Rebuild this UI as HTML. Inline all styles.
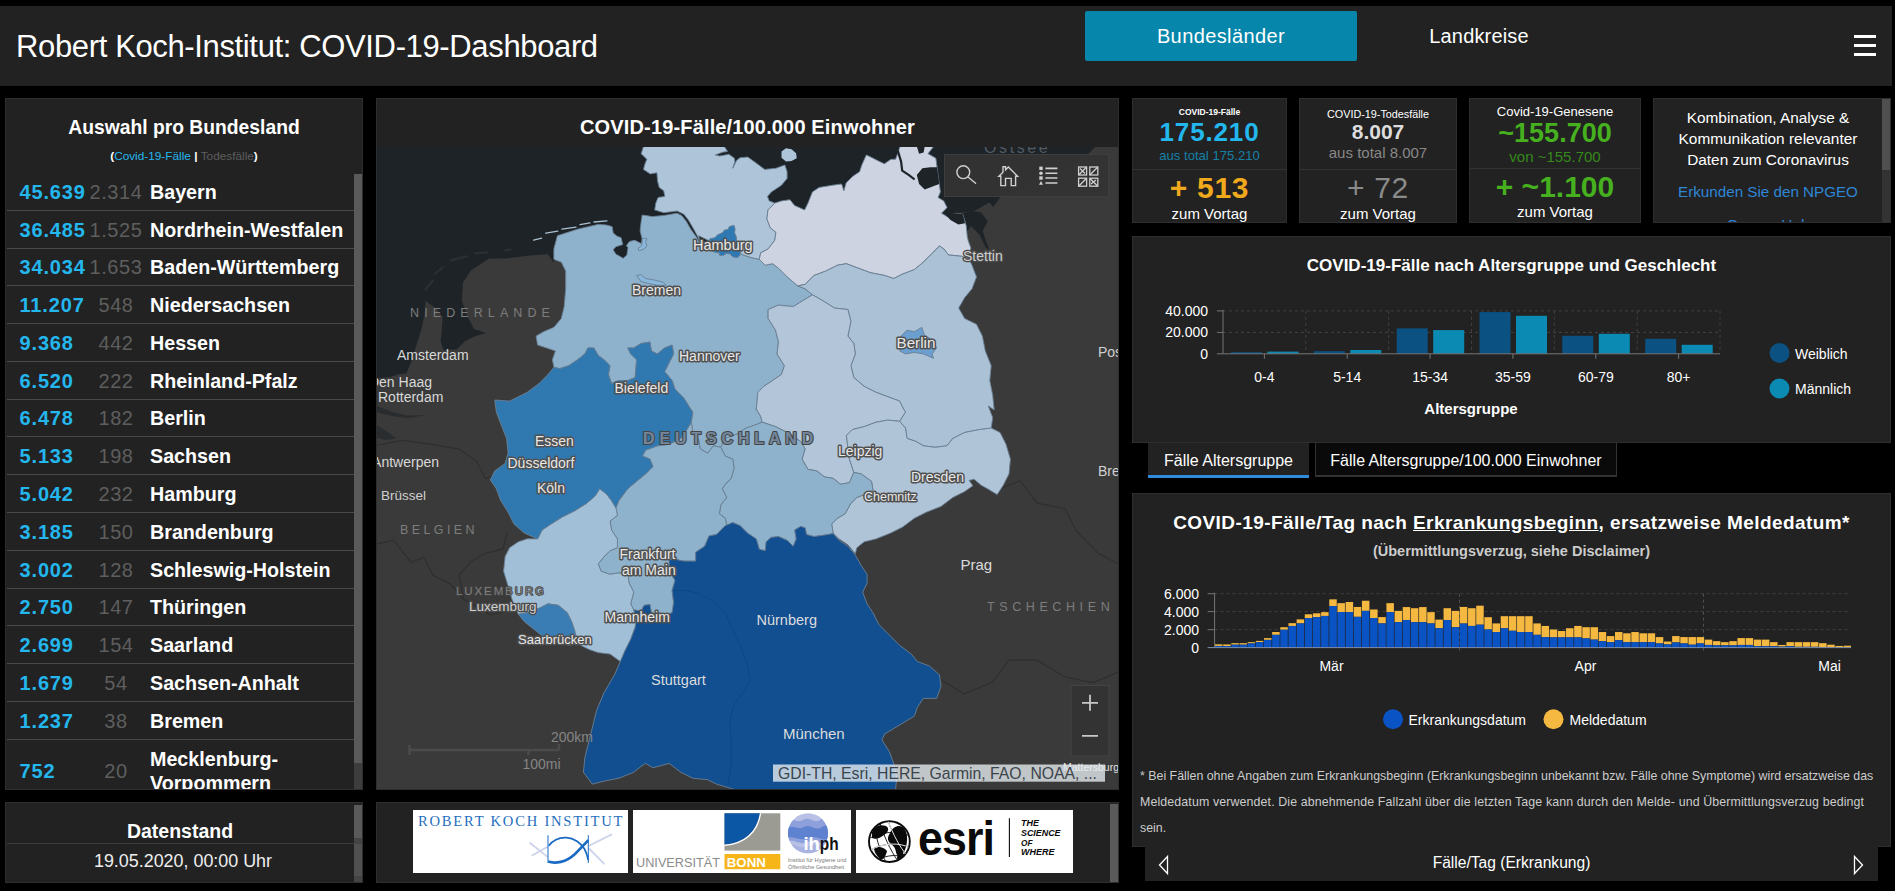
<!DOCTYPE html>
<html lang="de">
<head>
<meta charset="utf-8">
<title>Robert Koch-Institut: COVID-19-Dashboard</title>
<style>
*{box-sizing:border-box;margin:0;padding:0}
html,body{width:1895px;height:891px;overflow:hidden;background:#000;font-family:"Liberation Sans",sans-serif;color:#fff}
.abs{position:absolute}
.panel{position:absolute;background:#222;border:1px solid #2e2e2e}
.c{text-align:center;white-space:nowrap}
.b{font-weight:bold}
#header{left:0;top:6px;width:1892px;height:80px;background:#222}
#title{left:16px;top:28.5px;font-size:31px;line-height:36px;color:#fff;white-space:nowrap;letter-spacing:-0.36px}
#btn1{left:1085px;top:11px;width:272px;height:50px;background:#0686aa;border-radius:2px;font-size:20px;line-height:50px;letter-spacing:0.4px}
#btn2{left:1358px;top:11px;width:242px;height:50px;font-size:20px;line-height:50px;letter-spacing:0.15px}
.ham{left:1854px;width:22px;height:3px;background:#fff}
/* list */
#list{left:5px;top:98px;width:358px;height:692px;overflow:hidden}
.row{position:absolute;left:1px;width:347px;height:38px;border-bottom:1px solid #4a4a4a;font-size:20px;line-height:38.5px;font-weight:bold;white-space:nowrap}
.row .n1{position:absolute;left:12.5px;color:#23b7ee;letter-spacing:0.85px}
.row .n2{position:absolute;left:69px;width:80px;text-align:center;color:#5e5e5e;font-weight:normal;letter-spacing:0.6px}
.row .nm{position:absolute;left:143px;color:#fff;font-size:19.7px}
.sb{position:absolute;background:#5a5a5a}
</style>
</head>
<body>
<div id="header" class="abs"></div>
<div id="title" class="abs">Robert Koch-Institut: COVID-19-Dashboard</div>
<div id="btn1" class="abs c">Bundesländer</div>
<div id="btn2" class="abs c">Landkreise</div>
<div class="abs ham" style="top:34.5px"></div>
<div class="abs ham" style="top:43.5px"></div>
<div class="abs ham" style="top:52.5px"></div>

<!-- LEFT LIST -->
<div id="list" class="panel">
  <div class="abs c b" style="left:0;width:356px;top:16.5px;font-size:19.3px;line-height:24px">Auswahl pro Bundesland</div>
  <div class="abs c b" style="left:0;width:356px;top:50px;font-size:11.8px;line-height:14px"><span>(</span><span style="color:#23b7ee;font-weight:normal">Covid-19-Fälle</span> | <span style="color:#5e5e5e;font-weight:normal">Todesfälle</span>)</div>
  <div class="row" style="top:73.7px"><span class="n1">45.639</span><span class="n2">2.314</span><span class="nm">Bayern</span></div>
  <div class="row" style="top:111.5px"><span class="n1">36.485</span><span class="n2">1.525</span><span class="nm">Nordrhein-Westfalen</span></div>
  <div class="row" style="top:149.3px"><span class="n1">34.034</span><span class="n2">1.653</span><span class="nm">Baden-Württemberg</span></div>
  <div class="row" style="top:187.1px"><span class="n1">11.207</span><span class="n2">548</span><span class="nm">Niedersachsen</span></div>
  <div class="row" style="top:224.9px"><span class="n1">9.368</span><span class="n2">442</span><span class="nm">Hessen</span></div>
  <div class="row" style="top:262.6px"><span class="n1">6.520</span><span class="n2">222</span><span class="nm">Rheinland-Pfalz</span></div>
  <div class="row" style="top:300.4px"><span class="n1">6.478</span><span class="n2">182</span><span class="nm">Berlin</span></div>
  <div class="row" style="top:338.2px"><span class="n1">5.133</span><span class="n2">198</span><span class="nm">Sachsen</span></div>
  <div class="row" style="top:376.0px"><span class="n1">5.042</span><span class="n2">232</span><span class="nm">Hamburg</span></div>
  <div class="row" style="top:413.8px"><span class="n1">3.185</span><span class="n2">150</span><span class="nm">Brandenburg</span></div>
  <div class="row" style="top:451.6px"><span class="n1">3.002</span><span class="n2">128</span><span class="nm">Schleswig-Holstein</span></div>
  <div class="row" style="top:489.4px"><span class="n1">2.750</span><span class="n2">147</span><span class="nm">Thüringen</span></div>
  <div class="row" style="top:527.2px"><span class="n1">2.699</span><span class="n2">154</span><span class="nm">Saarland</span></div>
  <div class="row" style="top:565.0px"><span class="n1">1.679</span><span class="n2">54</span><span class="nm">Sachsen-Anhalt</span></div>
  <div class="row" style="top:602.8px"><span class="n1">1.237</span><span class="n2">38</span><span class="nm">Bremen</span></div>
  <div class="row" style="top:640.6px;height:52px;border-bottom:none"><span class="n1" style="top:12px">752</span><span class="n2" style="top:12px">20</span><span class="nm" style="top:7px;line-height:24px">Mecklenburg-<br>Vorpommern</span></div>
  <div class="sb" style="left:348px;top:75px;width:8px;height:589px"></div>
  <div class="sb" style="left:348px;top:664px;width:8px;height:27px;background:#3d3d3d"></div>
</div>

<!-- DATENSTAND -->
<div class="panel" style="left:5px;top:802px;width:358px;height:81px">
  <div class="abs c b" style="left:0;width:348px;top:17px;font-size:19.5px;line-height:22px">Datenstand</div>
  <div class="abs" style="left:1px;top:40px;width:347px;height:1px;background:#3c3c3c"></div>
  <div class="abs c" style="left:3px;width:348px;top:47.5px;font-size:17.9px;line-height:20px;color:#eee">19.05.2020, 00:00 Uhr</div>
  <div class="sb" style="left:348px;top:2px;width:8px;height:33px"></div>
  <div class="sb" style="left:348px;top:35px;width:8px;height:6px;background:#444"></div>
  <div class="sb" style="left:348px;top:41px;width:8px;height:32px;background:#505050"></div>
  <div class="sb" style="left:348px;top:73px;width:8px;height:6px;background:#444"></div>
</div>

<!-- MAP PANEL -->
<div class="panel" style="left:376px;top:98px;width:743px;height:692px;overflow:hidden">
  <div class="abs c b" style="left:0;width:741px;top:16px;font-size:20px;line-height:24px;letter-spacing:0.15px">COVID-19-Fälle/100.000 Einwohner</div>
  <div id="map" class="abs" style="left:0;top:48px;width:741px;height:642px;background:#3a3a3a;overflow:hidden">
<!--MAPSVG-->
<svg class="abs" style="left:0;top:0" width="741" height="642" viewBox="377 147 741 642" font-family="Liberation Sans, sans-serif">
<rect x="377" y="147" width="741" height="642" fill="#3a3a3a"/>
<path d="M374.3 145.3 L1095.7 146.5 L1088.1 154.1 L1073.0 166.0 L1025.5 186.9 L1000.8 196.4 L993.2 207.0 L989.4 202.5 L974.2 211.0 L947.3 214.3 L893.7 206.1 L775.5 265.2 L698.7 244.5 L598.2 265.2 L553.9 244.5 L553.8 262.4 L547.7 254.3 L529.5 255.4 L507.3 258.4 L489.1 258.4 L470.9 270.5 L462.9 282.6 L461.9 300.8 L466.9 314.9 L474.0 329.1 L486.1 333.1 L475.0 336.2 L464.9 341.2 L456.8 349.3 L443.7 350.3 L440.6 341.2 L441.7 332.1 L442.7 317.0 L436.6 308.9 L425.5 300.8 L424.5 314.9 L421.5 329.1 L416.4 345.3 L411.4 361.4 L406.3 373.5 L399.6 374.0 L390.1 377.1 L374.4 378.4 Z" fill="#1d2327"/>
<path d="M947.3 214.3 L962.5 213.5 L970.9 211.0 L981.0 212.6 L987.7 221.0 L982.7 231.1 L986.0 241.2 L989.4 249.7 L986.0 248.0 L979.3 234.5 L970.9 226.1 L967.5 231.1 L964.1 222.7 L954.0 222.7 L947.3 217.7 Z" fill="#1d2327"/>
<path d="M375.2 405.4 L391.7 411.7 L407.4 415.6 L426.3 414.9 L407.4 418.3 L391.7 416.1 L375.2 412.0 Z" fill="#2a2d30"/>
<path d="M375.2 424.3 L385.4 430.6 L396.4 438.4 L385.4 440.0 L375.2 436.9 Z" fill="#2a2d30"/>
<path d="M425.5 289.7 L433.0 280.2" fill="none" stroke="#2b3034" stroke-width="2.2" stroke-linecap="round"/>
<path d="M435.0 273.5 L442.7 267.5" fill="none" stroke="#2b3034" stroke-width="2.2" stroke-linecap="round"/>
<path d="M450.7 260.4 L466.9 256.4" fill="none" stroke="#2b3034" stroke-width="2.2" stroke-linecap="round"/>
<path d="M475.0 253.3 L487.1 252.3" fill="none" stroke="#2b3034" stroke-width="2.2" stroke-linecap="round"/>
<path d="M505.3 250.3 L510.3 249.3" fill="none" stroke="#2b3034" stroke-width="2.2" stroke-linecap="round"/>
<path d="M997.8 489.1 L1020.2 480.7 L1037.0 503.1 L1065.1 508.7 L1076.3 531.2 L1098.7 553.6 L1120.0 564.8" fill="none" stroke="#2f2f2f" stroke-width="1.2"/>
<path d="M936.1 677.0 L964.1 693.8 L992.2 682.6 L1009.0 660.2 L1037.0 660.2 L1065.1 677.0 L1093.1 682.6 L1120.0 671.4" fill="none" stroke="#2f2f2f" stroke-width="1.2"/>
<path d="M373.8 446.0 L402.3 440.3 L428.6 443.8 L459.2 449.1 L476.7 461.3 L485.5 478.8 L495.1 474.5" fill="none" stroke="#2f2f2f" stroke-width="1.2"/>
<path d="M373.8 544.5 L393.5 540.2 L411.0 562.1 L424.2 557.7 L432.9 575.2 L450.5 584.0 L463.6 599.3 L489.9 614.6 L507.4 611.1" fill="none" stroke="#2f2f2f" stroke-width="1.2"/>
<path d="M463.6 599.3 L459.2 575.2 L470.2 562.1 L485.5 553.3 L503.0 548.9 L507.4 531.4" fill="none" stroke="#2f2f2f" stroke-width="1.2"/>
<path d="M553.9 249.0 L557.4 235.7 L577.5 229.2 L598.2 224.4 L606.3 225.0 L612.1 226.6 L613.2 232.9 L616.9 236.1 L621.1 237.7 L622.7 244.6 L615.8 246.7 L613.2 249.8 L615.8 254.1 L623.2 258.3 L626.9 255.1 L628.0 247.7 L626.4 245.6 L629.6 241.4 L634.8 240.3 L641.2 243.5 L642.2 239.3 L640.1 230.8 L641.2 221.3 L642.2 215.0 L652.4 216.6 L663.7 215.5 L677.1 213.2 L681.6 215.5 L686.1 221.1 L690.6 228.9 L696.2 236.8 L698.5 241.3 L716.4 244.5 L734.1 250.4 L743.0 254.9 L751.9 257.8 L759.3 259.3 L765.2 265.2 L772.6 263.7 L778.5 268.2 L787.3 277.0 L797.7 285.9 L805.1 288.8 L812.4 294.8 L805.1 299.2 L793.2 306.6 L778.5 305.1 L768.1 309.5 L768.1 318.4 L775.5 330.2 L778.5 342.0 L777.0 353.9 L784.4 365.7 L781.4 374.5 L772.6 380.5 L763.7 386.4 L757.8 392.3 L756.3 410.0 L756.3 408.9 L760.7 416.3 L762.2 422.2 L754.8 425.1 L746.0 428.1 L737.1 434.0 L725.3 438.4 L720.8 447.3 L713.5 445.8 L707.5 453.2 L700.2 448.8 L698.7 439.9 L692.8 432.5 L691.3 422.2 L692.8 411.8 L691.3 410.0 L683.9 398.2 L675.0 389.3 L672.1 380.5 L664.7 371.6 L669.1 362.7 L673.6 353.9 L672.1 345.0 L664.7 347.9 L657.3 353.9 L651.4 350.9 L649.9 342.0 L641.1 343.5 L633.7 347.9 L627.8 347.9 L630.7 353.9 L636.6 359.8 L635.1 377.5 L627.8 380.5 L618.9 380.5 L611.5 383.4 L608.5 374.5 L610.0 365.7 L604.1 359.8 L598.2 355.3 L593.8 347.9 L587.9 347.9 L584.9 353.9 L577.5 359.8 L568.7 365.7 L559.8 368.6 L553.9 367.2 L552.4 359.8 L555.4 350.9 L546.5 347.9 L537.6 345.0 L536.1 336.1 L543.5 331.7 L553.9 327.3 L561.3 318.4 L564.2 306.6 L565.7 288.8 L565.7 271.1 L561.3 262.2 L553.9 259.3 Z" fill="#8eb2cb" stroke="#6a7f93" stroke-width="0.9" stroke-linejoin="round"/>
<path d="M643.5 146.4 L724.3 146.4 L727.6 151.5 L723.2 152.1 L715.3 154.9 L719.8 156.0 L728.8 154.3 L734.4 158.2 L734.9 161.6 L732.7 168.3 L736.6 160.5 L740.0 157.7 L747.8 157.1 L755.7 162.7 L764.7 169.4 L775.9 168.3 L784.9 165.0 L787.1 171.7 L787.1 178.4 L781.5 185.2 L771.4 191.9 L767.5 196.4 L769.2 200.9 L774.8 203.1 L768.0 209.9 L766.9 218.8 L770.3 227.8 L775.9 232.3 L774.8 240.2 L768.1 249.0 L760.7 252.8 L759.3 259.3 L751.9 257.8 L743.0 254.9 L734.1 250.4 L716.4 244.5 L704.6 238.6 L698.7 235.7 L699.6 241.3 L697.3 235.7 L692.9 227.8 L688.4 220.0 L683.9 214.3 L677.1 211.0 L663.7 212.7 L654.7 209.9 L655.8 203.1 L658.1 197.5 L664.8 196.4 L663.7 190.8 L659.2 187.4 L657.5 180.7 L656.9 172.8 L650.2 173.9 L643.5 169.4 L644.6 165.0 L646.8 159.3 L641.2 153.7 Z" fill="#adc4d9" stroke="#6a7f93" stroke-width="0.9" stroke-linejoin="round"/>
<path d="M759.3 259.3 L760.7 252.8 L768.1 249.0 L774.8 240.2 L775.9 232.3 L770.3 227.8 L766.9 218.8 L768.0 209.9 L774.8 203.1 L781.5 200.9 L790.0 199.7 L794.5 205.4 L804.6 209.9 L808.0 203.1 L812.4 191.9 L819.2 187.4 L832.6 185.2 L841.6 184.0 L843.9 190.8 L846.1 182.9 L852.9 176.2 L859.6 171.7 L861.8 165.0 L866.3 154.9 L870.8 157.1 L877.5 160.5 L884.3 163.8 L891.0 159.3 L895.5 159.3 L897.7 153.7 L900.0 146.4 L933.7 146.4 L928.0 153.7 L935.9 158.2 L937.0 167.2 L939.3 184.0 L940.4 191.9 L938.1 197.5 L943.8 200.9 L947.1 207.6 L941.5 213.2 L947.1 216.6 L956.1 213.2 L962.8 214.3 L966.2 225.6 L967.3 236.8 L968.4 241.2 L970.9 248.0 L969.2 254.7 L969.1 259.3 L969.1 259.3 L961.7 256.3 L948.4 254.9 L943.9 249.0 L939.5 246.0 L932.1 253.4 L923.3 262.2 L914.4 269.6 L902.6 274.1 L893.7 278.5 L884.8 275.5 L870.1 272.6 L858.3 268.2 L846.4 263.7 L837.6 265.2 L825.7 271.1 L813.9 275.5 L805.1 284.4 L797.7 285.9 L787.3 277.0 L778.5 268.2 L772.6 263.7 L765.2 265.2 Z" fill="#cdd3e1" stroke="#6a7f93" stroke-width="0.9" stroke-linejoin="round"/>
<path d="M797.7 285.9 L805.1 284.4 L813.9 275.5 L825.7 271.1 L837.6 265.2 L846.4 263.7 L858.3 268.2 L870.1 272.6 L884.8 275.5 L893.7 278.5 L902.6 274.1 L914.4 269.6 L923.3 262.2 L932.1 253.4 L939.5 246.0 L943.9 249.0 L948.4 254.9 L961.7 256.3 L969.1 259.3 L972.0 265.2 L976.5 277.0 L972.0 288.8 L964.6 297.7 L958.7 308.1 L964.6 318.4 L976.5 324.3 L982.4 336.1 L985.3 350.9 L991.2 365.7 L989.8 380.5 L992.7 395.2 L994.2 410.0 L988.3 405.9 L992.7 417.7 L991.2 428.1 L979.4 429.6 L964.6 432.5 L952.8 438.4 L946.9 445.8 L935.1 447.3 L923.3 445.8 L915.9 441.4 L907.0 438.4 L905.5 428.1 L899.6 421.3 L905.5 411.8 L904.1 410.0 L899.6 401.1 L887.8 396.7 L876.0 392.3 L864.2 386.4 L853.8 377.5 L850.9 365.7 L855.3 353.9 L853.8 343.5 L847.9 336.1 L850.9 321.3 L847.9 309.5 L834.6 308.1 L822.8 300.7 L812.4 294.8 L805.1 288.8 Z" fill="#abc1d5" stroke="#6a7f93" stroke-width="0.9" stroke-linejoin="round"/>
<path d="M812.4 294.8 L822.8 300.7 L834.6 308.1 L847.9 309.5 L850.9 321.3 L847.9 336.1 L853.8 343.5 L855.3 353.9 L850.9 365.7 L853.8 377.5 L864.2 386.4 L876.0 392.3 L887.8 396.7 L899.6 401.1 L904.1 410.0 L905.5 411.8 L899.6 421.3 L887.8 420.1 L876.0 422.2 L864.2 426.6 L852.3 429.6 L846.4 435.5 L847.9 447.3 L849.4 459.1 L853.8 472.4 L849.4 482.7 L840.5 484.2 L833.1 478.3 L824.3 476.8 L816.9 470.9 L808.0 469.4 L802.1 459.1 L805.1 448.8 L800.6 441.4 L787.3 432.5 L775.5 426.6 L762.2 422.2 L760.7 416.3 L756.3 408.9 L756.3 410.0 L757.8 392.3 L763.7 386.4 L772.6 380.5 L781.4 374.5 L784.4 365.7 L777.0 353.9 L778.5 342.0 L775.5 330.2 L768.1 318.4 L768.1 309.5 L778.5 305.1 L793.2 306.6 L805.1 299.2 Z" fill="#b3c5d8" stroke="#6a7f93" stroke-width="0.9" stroke-linejoin="round"/>
<path d="M855.3 553.7 L847.9 544.8 L839.0 538.9 L833.1 533.0 L831.7 524.1 L837.6 518.2 L845.0 513.8 L850.9 503.4 L856.8 497.5 L864.2 494.6 L873.0 490.1 L871.5 481.3 L861.2 473.9 L853.8 472.4 L849.4 459.1 L847.9 447.3 L846.4 435.5 L852.3 429.6 L864.2 426.6 L876.0 422.2 L887.8 420.1 L899.6 421.3 L905.5 428.1 L907.0 438.4 L915.9 441.4 L923.3 445.8 L935.1 447.3 L946.9 445.8 L952.8 438.4 L964.6 432.5 L979.4 429.6 L991.2 428.1 L1000.1 432.5 L1006.0 444.3 L1010.4 459.1 L1009.0 473.9 L1003.0 485.7 L997.1 494.6 L988.3 489.2 L980.9 485.1 L974.1 479.2 L969.1 480.4 L972.9 485.7 L964.6 491.6 L952.8 497.5 L941.0 506.4 L926.2 512.3 L914.4 518.2 L902.6 527.1 L890.8 533.0 L876.0 538.9 L864.2 541.8 L856.8 547.8 Z" fill="#b0c4d8" stroke="#6a7f93" stroke-width="0.9" stroke-linejoin="round"/>
<path d="M720.8 447.3 L725.3 456.1 L732.7 459.1 L734.1 468.0 L731.2 478.3 L725.3 484.2 L722.3 488.7 L726.7 497.5 L720.8 504.9 L719.4 513.8 L725.3 518.2 L726.7 525.6 L732.7 522.6 L740.0 525.6 L747.4 533.0 L756.3 538.9 L759.3 549.2 L765.2 550.7 L766.1 541.8 L771.1 537.4 L778.5 536.5 L787.3 540.4 L793.2 546.3 L796.2 538.9 L794.7 530.0 L800.6 526.5 L805.1 527.7 L806.5 534.5 L813.9 536.5 L822.8 535.3 L833.1 533.6 L833.1 533.0 L831.7 524.1 L837.6 518.2 L845.0 513.8 L850.9 503.4 L856.8 497.5 L864.2 494.6 L873.0 490.1 L871.5 481.3 L861.2 473.9 L853.8 472.4 L849.4 482.7 L840.5 484.2 L833.1 478.3 L824.3 476.8 L816.9 470.9 L808.0 469.4 L802.1 459.1 L805.1 448.8 L800.6 441.4 L787.3 432.5 L775.5 426.6 L762.2 422.2 L754.8 425.1 L746.0 428.1 L737.1 434.0 L725.3 438.4 Z" fill="#8eb2cb" stroke="#6a7f93" stroke-width="0.9" stroke-linejoin="round"/>
<path d="M691.3 422.2 L692.8 432.5 L698.7 439.9 L700.2 448.8 L707.5 453.2 L713.5 445.8 L720.8 447.3 L725.3 456.1 L732.7 459.1 L734.1 468.0 L731.2 478.3 L725.3 484.2 L722.3 488.7 L726.7 497.5 L720.8 504.9 L719.4 513.8 L725.3 518.2 L726.7 525.6 L725.3 525.6 L716.4 534.5 L709.0 535.9 L704.6 546.3 L695.7 552.2 L695.7 561.1 L683.9 561.1 L676.5 559.6 L669.1 571.4 L675.0 580.3 L672.1 590.6 L673.6 602.4 L672.1 612.8 L663.2 615.7 L651.4 612.8 L649.9 604.5 L644.0 605.4 L641.1 611.3 L633.7 609.8 L630.7 603.9 L633.7 592.1 L629.2 583.2 L627.8 574.3 L618.9 572.9 L610.0 574.3 L601.2 571.4 L598.2 564.0 L604.1 556.6 L610.0 550.7 L617.4 547.8 L617.4 538.9 L611.5 530.0 L610.0 521.2 L617.4 515.2 L615.9 507.9 L615.9 507.9 L618.9 500.5 L627.8 488.7 L636.6 481.3 L645.5 473.9 L652.9 466.5 L649.9 459.1 L642.5 456.1 L645.5 450.2 L657.3 445.8 L669.1 444.3 L680.9 438.4 L686.9 429.6 L691.3 422.2 Z" fill="#8eb2cb" stroke="#6a7f93" stroke-width="0.9" stroke-linejoin="round"/>
<path d="M607.1 494.6 L611.5 500.5 L615.9 507.9 L615.9 507.9 L617.4 515.2 L610.0 521.2 L611.5 530.0 L617.4 538.9 L617.4 547.8 L610.0 550.7 L604.1 556.6 L598.2 564.0 L601.2 571.4 L610.0 574.3 L618.9 572.9 L627.8 574.3 L629.2 583.2 L633.7 592.1 L630.7 603.9 L633.7 609.8 L636.6 618.6 L635.1 627.5 L630.7 639.3 L624.8 651.1 L620.4 661.5 L610.0 654.1 L598.2 652.6 L589.3 649.6 L580.5 645.2 L577.5 643.7 L574.6 630.4 L571.6 621.6 L567.2 612.7 L558.3 605.3 L548.0 603.8 L539.1 608.3 L527.3 612.7 L518.4 614.2 L512.5 600.9 L508.1 586.1 L503.6 571.3 L505.1 556.6 L509.6 547.7 L518.4 541.8 L527.3 538.8 L537.6 538.9 L542.1 530.0 L550.9 524.1 L562.7 516.7 L574.6 510.8 L586.4 503.4 L595.2 496.0 L599.7 488.7 L607.1 494.6 L611.5 500.5 Z" fill="#a1c0d7" stroke="#6a7f93" stroke-width="0.9" stroke-linejoin="round"/>
<path d="M553.9 367.2 L559.8 368.6 L568.7 365.7 L577.5 359.8 L584.9 353.9 L587.9 347.9 L593.8 347.9 L598.2 355.3 L604.1 359.8 L610.0 365.7 L608.5 374.5 L611.5 383.4 L618.9 380.5 L627.8 380.5 L635.1 377.5 L636.6 359.8 L630.7 353.9 L627.8 347.9 L633.7 347.9 L641.1 343.5 L649.9 342.0 L651.4 350.9 L657.3 353.9 L664.7 347.9 L672.1 345.0 L673.6 353.9 L669.1 362.7 L664.7 371.6 L672.1 380.5 L675.0 389.3 L683.9 398.2 L691.3 410.0 L692.8 411.8 L691.3 422.2 L686.9 429.6 L680.9 438.4 L669.1 444.3 L657.3 445.8 L645.5 450.2 L642.5 456.1 L649.9 459.1 L652.9 466.5 L645.5 473.9 L636.6 481.3 L627.8 488.7 L618.9 500.5 L615.9 507.9 L611.5 500.5 L607.1 494.6 L599.7 488.7 L595.2 496.0 L586.4 503.4 L574.6 510.8 L562.7 516.7 L550.9 524.1 L542.1 530.0 L537.6 538.9 L524.3 533.0 L514.0 524.1 L508.1 512.3 L500.7 500.5 L496.3 488.7 L490.3 479.8 L494.8 470.9 L505.1 463.5 L508.1 453.2 L506.6 438.4 L500.7 423.6 L496.3 411.8 L494.8 400.0 L509.6 401.1 L527.3 392.3 L539.1 383.4 L548.0 374.5 Z" fill="#2f78b0" stroke="#6a7f93" stroke-width="0.9" stroke-linejoin="round"/>
<path d="M669.1 559.6 L676.5 559.6 L683.9 561.1 L695.7 561.1 L695.7 552.2 L704.6 546.3 L709.0 535.9 L716.4 534.5 L725.3 525.6 L732.7 522.6 L740.0 525.6 L747.4 533.0 L756.3 538.9 L759.3 549.2 L765.2 550.7 L766.1 541.8 L771.1 537.4 L778.5 536.5 L787.3 540.4 L793.2 546.3 L796.2 538.9 L794.7 530.0 L800.6 526.5 L805.1 527.7 L806.5 534.5 L813.9 536.5 L822.8 535.3 L833.1 533.6 L839.0 540.4 L847.9 546.3 L855.3 555.1 L861.2 565.5 L867.1 574.3 L867.1 583.2 L862.7 592.1 L867.1 603.9 L873.0 612.8 L878.9 624.6 L887.8 633.5 L899.6 645.3 L911.4 654.1 L917.4 661.5 L929.2 665.9 L939.5 674.8 L941.0 686.6 L936.6 698.4 L923.3 698.4 L917.4 707.3 L914.4 716.1 L899.6 725.0 L884.8 733.9 L881.9 739.8 L889.3 751.6 L893.7 763.4 L896.7 778.2 L895.2 793.0 L746.0 793.0 L731.2 788.5 L716.4 784.1 L707.5 779.7 L692.8 778.2 L680.9 772.3 L669.1 763.4 L652.9 767.8 L645.5 763.4 L641.1 766.4 L633.7 772.3 L618.9 778.2 L604.1 781.1 L592.3 784.1 L583.4 772.3 L584.9 757.5 L590.8 733.9 L596.7 710.2 L604.1 692.5 L614.5 674.8 L620.4 661.5 L624.8 651.1 L630.7 639.3 L635.1 627.5 L636.6 618.6 L633.7 609.7 L641.1 611.2 L644.0 605.3 L649.9 604.4 L651.4 612.7 L663.2 615.7 L672.1 612.7 L673.6 602.4 L672.1 590.5 L675.0 580.2 L669.1 571.3 Z" fill="#114f91" stroke="#6a7f93" stroke-width="0.9" stroke-linejoin="round"/>
<path d="M518.4 614.2 L527.3 612.7 L539.1 608.3 L548.0 603.8 L558.3 605.3 L567.2 612.7 L571.6 621.6 L574.6 630.4 L577.5 643.7 L568.7 645.2 L558.3 642.2 L548.0 640.8 L539.1 633.4 L531.7 627.5 L524.3 621.6 Z" fill="#3a7db5" stroke="#6a7f93" stroke-width="0.9" stroke-linejoin="round"/>
<path d="M709.8 238.7 L715.0 237.7 L717.2 235.1 L723.0 232.4 L724.0 230.3 L728.2 229.2 L729.3 226.6 L734.0 225.3 L735.1 228.7 L734.6 232.9 L736.1 236.1 L736.7 240.3 L739.3 246.7 L740.9 251.4 L739.8 255.6 L737.2 257.7 L732.5 256.7 L730.3 254.1 L726.6 253.5 L723.0 255.6 L719.8 255.6 L719.3 253.0 L715.6 252.5 L712.4 250.9 L710.8 246.7 L709.2 242.4 Z" fill="#2f79b3" stroke="#6a7f93" stroke-width="0.9" stroke-linejoin="round"/>
<path d="M636.6 275.5 L641.1 274.7 L645.5 278.5 L654.3 280.0 L663.2 282.3 L666.2 285.3 L657.3 285.3 L648.4 283.5 L641.1 281.5 Z" fill="#8ab8dc" stroke="#6a7f93" stroke-width="0.9" stroke-linejoin="round"/>
<path d="M642.2 238.2 L647.0 238.7 L645.4 242.4 L647.0 245.6 L644.3 248.8 L639.1 250.9 L638.0 248.8 L641.7 245.6 L642.2 241.4 Z" fill="#8ab8dc" stroke="#6a7f93" stroke-width="0.9" stroke-linejoin="round"/>
<path d="M901.1 336.1 L907.0 330.2 L914.4 331.7 L921.8 327.3 L924.7 336.1 L932.1 339.1 L936.6 347.9 L932.1 353.9 L933.6 358.3 L923.3 353.9 L914.4 352.4 L905.5 353.9 L899.6 350.9 L904.1 343.5 Z" fill="#6a9fcf" stroke="#6a7f93" stroke-width="0.9" stroke-linejoin="round"/>
<path d="M533.6 240.2 L541.7 238.2" fill="none" stroke="#a9c0d2" stroke-width="1.3" stroke-linecap="round"/>
<path d="M545.7 233.1 L557.8 231.1" fill="none" stroke="#a9c0d2" stroke-width="1.3" stroke-linecap="round"/>
<path d="M561.9 229.1 L576.0 227.1" fill="none" stroke="#a9c0d2" stroke-width="1.3" stroke-linecap="round"/>
<path d="M580.0 224.6 L590.0 222.8" fill="none" stroke="#a9c0d2" stroke-width="1.3" stroke-linecap="round"/>
<path d="M594.0 222.0 L607.0 220.8" fill="none" stroke="#a9c0d2" stroke-width="1.3" stroke-linecap="round"/>
<path d="M937.0 167.2 L930.3 167.2 L922.4 168.3 L916.8 175.1 L919.1 184.0 L924.7 189.6 L935.9 185.2 L939.3 184.0 L938.1 175.1 Z" fill="#1d2327"/>
<path d="M916.8 146.4 L924.7 146.4 L923.6 152.6 L919.1 153.7 Z" fill="#1d2327"/>
<path d="M944.9 214.3 L956.1 213.2 L962.8 214.3 L965.1 223.3 L958.4 224.4 L950.5 220.0 Z" fill="#1d2327"/>
<path d="M897.7 150.4 L901.1 161.6 L902.2 170.6 L909.0 175.1 L914.6 179.5" fill="none" stroke="#1d2327" stroke-width="2.2" stroke-linejoin="round"/>
<path d="M781.5 151.5 L786.0 148.3 L791.6 149.2 L796.1 153.2 L796.7 158.2 L791.6 161.0 L786.0 161.6 L781.5 157.7 Z" fill="#adc4d9"/>
<path d="M673.6 590.5 L686.9 590.5 L698.7 593.5 L713.5 600.9 L725.3 612.7 L731.2 627.5 L740.0 645.2 L746.0 660.0 L750.4 680.7 L743.0 692.5 L734.1 704.3 L729.7 722.0 L731.2 739.8 L731.2 763.4 L728.2 784.1" fill="none" stroke="#0e4784" stroke-width="1"/>
<text x="693" y="249.7" font-size="14.5" text-anchor="start" fill="#e8e8e8" stroke="#505050" stroke-width="3" stroke-linejoin="round" paint-order="stroke" >Hamburg</text>
<text x="632" y="294.7" font-size="14" text-anchor="start" fill="#e8e8e8" stroke="#505050" stroke-width="3" stroke-linejoin="round" paint-order="stroke" >Bremen</text>
<text x="679" y="361.0" font-size="14" text-anchor="start" fill="#e8e8e8" stroke="#505050" stroke-width="3" stroke-linejoin="round" paint-order="stroke" >Hannover</text>
<text x="614.5" y="393.4" font-size="14" text-anchor="start" fill="#e8e8e8" stroke="#505050" stroke-width="3" stroke-linejoin="round" paint-order="stroke" >Bielefeld</text>
<text x="896.5" y="348.1" font-size="15.2" text-anchor="start" fill="#e8e8e8" stroke="#505050" stroke-width="3" stroke-linejoin="round" paint-order="stroke" >Berlin</text>
<text x="535" y="445.5" font-size="14" text-anchor="start" fill="#e8e8e8" stroke="#505050" stroke-width="3" stroke-linejoin="round" paint-order="stroke" >Essen</text>
<text x="507.5" y="467.6" font-size="14" text-anchor="start" fill="#e8e8e8" stroke="#505050" stroke-width="3" stroke-linejoin="round" paint-order="stroke" >Düsseldorf</text>
<text x="537" y="492.8" font-size="14" text-anchor="start" fill="#e8e8e8" stroke="#505050" stroke-width="3" stroke-linejoin="round" paint-order="stroke" >Köln</text>
<text x="838" y="455.8" font-size="14" text-anchor="start" fill="#e8e8e8" stroke="#505050" stroke-width="3" stroke-linejoin="round" paint-order="stroke" >Leipzig</text>
<text x="911" y="482.4" font-size="14" text-anchor="start" fill="#e8e8e8" stroke="#505050" stroke-width="3" stroke-linejoin="round" paint-order="stroke" >Dresden</text>
<text x="864" y="501.1" font-size="12.5" text-anchor="start" fill="#e8e8e8" stroke="#505050" stroke-width="3" stroke-linejoin="round" paint-order="stroke" >Chemnitz</text>
<text x="619.5" y="558.7" font-size="14" text-anchor="start" fill="#e8e8e8" stroke="#505050" stroke-width="3" stroke-linejoin="round" paint-order="stroke" >Frankfurt</text>
<text x="622" y="574.9" font-size="14" text-anchor="start" fill="#e8e8e8" stroke="#505050" stroke-width="3" stroke-linejoin="round" paint-order="stroke" >am Main</text>
<text x="604.5" y="622.2" font-size="14" text-anchor="start" fill="#e8e8e8" stroke="#505050" stroke-width="3" stroke-linejoin="round" paint-order="stroke" >Mannheim</text>
<text x="518" y="643.5" font-size="13" text-anchor="start" fill="#e8e8e8" stroke="#505050" stroke-width="3" stroke-linejoin="round" paint-order="stroke" >Saarbrücken</text>
<text x="643" y="443.5" font-size="16" font-weight="bold" letter-spacing="4.85" fill="#73879c" stroke="#454545" stroke-width="2.2" stroke-linejoin="round" paint-order="stroke">DEUTSCHLAND</text>
<text x="963" y="261.3" font-size="14" fill="#d0d0d0" stroke="#4a4a4a" stroke-width="2.6" stroke-linejoin="round" paint-order="stroke">Stettin</text>
<text x="756.5" y="625.4" font-size="14.5" fill="#dcdcdc" >Nürnberg</text>
<text x="651" y="685.0" font-size="14.5" fill="#dcdcdc" >Stuttgart</text>
<text x="783" y="739.2" font-size="15" fill="#dcdcdc" >München</text>
<text x="960.5" y="570.0" font-size="15" fill="#dcdcdc" >Prag</text>
<text x="397" y="360.0" font-size="14" fill="#d8d8d8" >Amsterdam</text>
<text x="378" y="402.0" font-size="14" fill="#d8d8d8" >Rotterdam</text>
<text x="381" y="499.9" font-size="13.5" fill="#cfcfcf" >Brüssel</text>
<text x="469" y="610.9" font-size="13.5" fill="#cfcfcf" stroke="#4a4a4a" stroke-width="2.6" stroke-linejoin="round" paint-order="stroke">Luxemburg</text>
<text x="1098" y="357.0" font-size="14" fill="#d0d0d0" >Pos</text>
<text x="1098" y="476.0" font-size="14" fill="#d0d0d0" >Bre</text>
<text x="432" y="387" font-size="14" fill="#d8d8d8" text-anchor="end">Den Haag</text>
<text x="439" y="467" font-size="14" fill="#d8d8d8" text-anchor="end">Antwerpen</text>
<text x="410" y="316.5" font-size="12.5" letter-spacing="5.1" fill="#7d7d7d">NIEDERLANDE</text>
<text x="400" y="533.5" font-size="12.5" letter-spacing="3.4" fill="#7d7d7d">BELGIEN</text>
<text x="456" y="595.3" font-size="11.5" letter-spacing="1.9" fill="#7d7d7d" stroke="#444" stroke-width="1.4" stroke-linejoin="round" paint-order="stroke">LUXEMBURG</text>
<text x="987" y="610.5" font-size="12.5" letter-spacing="4.6" fill="#7d7d7d">TSCHECHIEN</text>
<text x="984" y="152.5" font-size="16" letter-spacing="2.6" fill="#525b63">Ostsee</text>
<text x="1063" y="770.5" font-size="10.5" fill="#e2e2e2">Mattersburg</text>
<g stroke="#4b4b4b" stroke-width="2.5" fill="none"><path d="M409.5 745 V755 M409.5 750 H559 M559 744 V750 M528.5 750 V755"/></g>
<text x="551" y="742" font-size="14" fill="#858585">200km</text><text x="522.5" y="769" font-size="14" fill="#858585">100mi</text>
<rect x="944.5" y="154.5" width="164" height="42" fill="#333" fill-opacity="0.96" stroke="#3e3e3e" stroke-width="1"/>
<g fill="none" stroke="#cfcfcf" stroke-width="1.4" stroke-linecap="round" stroke-linejoin="miter">
<circle cx="963.3" cy="172.2" r="6.4"/><path d="M968 177 L975.6 183.2"/>
<path d="M998.9 176.3 L1003 172.3 V166.8 H1005.6 V169.8 L1008.4 167 L1017.6 176.3 H1015.6 V185.6 H1011.2 V178.4 H1005.5 V185.6 H1000.8 V176.3 Z"/>
</g>
<g stroke="#cfcfcf" stroke-width="1.6" fill="none"><path d="M1045.4 168.4 H1057.4 M1045.4 173.2 H1057.4 M1045.4 178 H1057.4 M1045.4 183 H1057.4"/></g>
<g fill="#cfcfcf"><rect x="1039.3" y="166.6" width="3.4" height="3.4"/><circle cx="1041" cy="173.2" r="1.8"/><rect x="1039.3" y="176.3" width="3.4" height="3.4"/><path d="M1039 184.8 L1041 181 L1043 184.8 Z"/></g>
<g fill="none" stroke="#cfcfcf" stroke-width="1.3"><rect x="1078.6" y="167" width="8" height="8"/><rect x="1089.8" y="167" width="8" height="8"/><rect x="1078.6" y="178.2" width="8" height="8"/><rect x="1089.8" y="178.2" width="8" height="8"/><path d="M1078.6 175 L1086.6 167 M1080 168.5 L1085 173.5 M1089.8 175 L1097.8 167 M1078.6 186.2 L1086.6 178.2 M1089.8 178.2 L1097.8 186.2 M1091 184 L1096 180"/></g>
<rect x="1071" y="685.5" width="38" height="70.5" fill="#333" stroke="#444" stroke-width="1"/>
<path d="M1082 702.8 H1098 M1090 694.8 V710.8 M1082 735.8 H1098" stroke="#c8c8c8" stroke-width="1.8" fill="none"/>
<rect x="773" y="764.5" width="332" height="17.2" fill="#e8eef2" fill-opacity="0.78"/>
<text x="778" y="778.6" font-size="16.2" fill="#3c444c" textLength="319" lengthAdjust="spacingAndGlyphs">GDI-TH, Esri, HERE, Garmin, FAO, NOAA, ...</text>
</svg>
<!--/MAPSVG-->
  </div>
</div>

<!-- LOGOS -->
<div class="panel" style="left:376px;top:802px;width:743px;height:81px">
  <svg class="abs" style="left:-1px;top:-1px" width="743" height="81" viewBox="376 802 743 81" font-family="Liberation Sans, sans-serif">
    <!-- RKI -->
    <rect x="413" y="810" width="215" height="63" fill="#fff"/>
    <text x="418" y="825.6" font-size="14.6" fill="#1e6fbe" textLength="204.5" lengthAdjust="spacing" font-family="Liberation Serif, serif">ROBERT KOCH INSTITUT</text>
    <g fill="none" stroke="#cdd3ea" stroke-width="1.8" stroke-linecap="round">
      <path d="M530 843 L547 856.4 M532.4 855.2 L547.6 846.7 M589.5 845.5 L611.3 834.6 M589.5 849 L604 863.7"/>
    </g>
    <g fill="none" stroke="#1b6ac2">
      <path d="M548 835.2 V863 M588.3 835.2 V863" stroke-width="1"/>
      <path d="M548.2 861.6 C555 864 566 862.5 575 854 C581 848 585 844 588.3 840.2" stroke-width="2.6"/>
      <path d="M548.8 845.8 C553 840 560 837.3 566.4 837.6 C574 838 581 843 584.6 849.1 C586.5 853 587.5 856 588.3 860" stroke-width="1.8"/>
    </g>
    <!-- BONN -->
    <rect x="633" y="810" width="218" height="63" fill="#fff"/>
    <rect x="724.5" y="813.3" width="55.8" height="37.3" fill="#9b9a93"/>
    <path d="M724.5 813.3 H760 C757 832 744 843 724.5 844.6 Z" fill="#0b57a6"/>
    <path d="M760.6 813.3 C757.5 832.5 744.5 844 724.5 845.3" fill="none" stroke="#fff" stroke-width="1.3"/>
    <rect x="724.5" y="854" width="55.8" height="15.2" fill="#f6b519"/>
    <text x="636" y="866.8" font-size="12.6" fill="#8b8b8b" textLength="84" lengthAdjust="spacingAndGlyphs">UNIVERSITÄT</text>
    <text x="726.8" y="866.8" font-size="12.6" font-weight="bold" fill="#fff" textLength="39" lengthAdjust="spacingAndGlyphs">BONN</text>
    <clipPath id="ihc"><circle cx="808" cy="833.3" r="20"/></clipPath>
    <circle cx="808" cy="833.3" r="20" fill="#b9c0e6"/>
    <g clip-path="url(#ihc)">
      <path d="M786 822 C792 816 797 824 803 820 C809 816 814 824 820 820 C824 817 827 821 830 819 V842 C824 848 816 838 808 842 C800 846 794 838 786 842 Z" fill="#8ea0dc"/>
      <path d="M786 829 C792 823 798 831 804 827 C810 823 816 832 822 827 C826 824 828 827 830 826 V838 C824 843 816 834 808 838 C800 842 794 835 786 838 Z" fill="#5f82d0"/>
      <path d="M786 846 C794 842 800 850 808 846 C816 842 824 850 830 845 V856 H786 Z" fill="#a9b3e2"/>
    </g>
    <text x="803.4" y="849.6" font-size="18" font-weight="bold" fill="#fff" textLength="16.4" lengthAdjust="spacingAndGlyphs">ih</text>
    <text x="819.8" y="849.6" font-size="18" font-weight="bold" fill="#111" textLength="18.8" lengthAdjust="spacingAndGlyphs">ph</text>
    <text x="788" y="861.6" font-size="5.6" fill="#777" textLength="58.5" lengthAdjust="spacingAndGlyphs">Institut für Hygiene und</text>
    <text x="788" y="868.9" font-size="5.6" fill="#777" textLength="56" lengthAdjust="spacingAndGlyphs">Öffentliche Gesundheit</text>
    <!-- ESRI -->
    <rect x="856" y="810" width="217" height="63" fill="#fff"/>
    <clipPath id="glc"><circle cx="889.4" cy="841.6" r="20"/></clipPath>
    <circle cx="889.4" cy="841.6" r="20.4" fill="#fff" stroke="#0a0a0a" stroke-width="1.9"/>
    <g clip-path="url(#glc)">
      <path d="M872 832 C874 826 880 824 886 826 C890 828 888 833 884 835 C880 838 876 840 872 838 Z" fill="#0a0a0a"/>
      <path d="M890 833 C893 826 900 824 904 828 C908 833 908 842 905 850 C902 856 897 858 896 852 C895 846 892 845 889 842 C887 839 888 836 890 833 Z" fill="#0a0a0a"/>
      <path d="M874 848 C878 846 884 847 887 851 C886 856 883 861 880 859 C877 856 874 852 874 848 Z" fill="#0a0a0a"/>
      <path d="M898 853 C901 851 905 853 904 857 C902 861 898 862 897 858 Z" fill="#0a0a0a"/>
      <g stroke="#0a0a0a" stroke-width="0.9" fill="none">
        <path d="M870 838 C880 832 898 830 910 836 M871 850 C882 843 900 842 910 848 M878 860 C886 855 898 854 906 858 M880 823 C884 836 890 850 898 861 M888 821 C893 834 900 848 907 855 M875 829 C877 842 881 853 886 862"/>
      </g>
      <g stroke="#fff" stroke-width="0.9" fill="none">
        <path d="M888 821 C893 834 900 848 907 855 M871 850 C882 843 900 842 910 848"/>
      </g>
    </g>
    <text x="918" y="854.7" font-size="49" font-weight="bold" fill="#0a0a0a" textLength="76" lengthAdjust="spacingAndGlyphs" letter-spacing="-1">esri</text>
    <path d="M1009.4 818.2 V857" stroke="#0a0a0a" stroke-width="1.1"/>
    <g font-size="8.4" font-weight="bold" font-style="italic" fill="#0a0a0a">
      <text x="1021" y="825.8" textLength="18" lengthAdjust="spacingAndGlyphs">THE</text>
      <text x="1021" y="835.7" textLength="39.5" lengthAdjust="spacingAndGlyphs">SCIENCE</text>
      <text x="1021" y="845.5" textLength="11.5" lengthAdjust="spacingAndGlyphs">OF</text>
      <text x="1021" y="855.3" textLength="33.5" lengthAdjust="spacingAndGlyphs">WHERE</text>
    </g>
  </svg>
  <div class="sb" style="left:733px;top:1px;width:8px;height:78px"></div>
</div>

<!-- STATS -->
<div class="panel" style="left:1132px;top:98px;width:155px;height:125px">
  <div class="abs c b" style="left:0;width:153px;top:6.5px;font-size:8.5px;line-height:12px">COVID-19-Fälle</div>
  <div class="abs c b" style="left:0;width:153px;top:18px;font-size:26px;line-height:30px;letter-spacing:0.85px;color:#23b7ee">175.210</div>
  <div class="abs c" style="left:0;width:153px;top:49px;font-size:13.1px;line-height:16px;color:#1581a8">aus total 175.210</div>
  <div class="abs" style="left:0;top:70px;width:153px;height:1px;background:#333"></div>
  <div class="abs c b" style="left:0;width:153px;top:71px;font-size:30px;line-height:36px;letter-spacing:0.7px;color:#f0a81c">+ 513</div>
  <div class="abs c" style="left:0;width:153px;top:106px;font-size:15px;line-height:18px">zum Vortag</div>
</div>
<div class="panel" style="left:1299px;top:98px;width:158px;height:125px">
  <div class="abs c" style="left:0;width:156px;top:8.5px;font-size:10.8px;line-height:12px">COVID-19-Todesfälle</div>
  <div class="abs c b" style="left:0;width:156px;top:21px;font-size:21px;line-height:24px;color:#ddd">8.007</div>
  <div class="abs c" style="left:0;width:156px;top:45px;font-size:15px;line-height:18px;color:#888">aus total 8.007</div>
  <div class="abs" style="left:0;top:70px;width:156px;height:1px;background:#333"></div>
  <div class="abs c" style="left:0;width:156px;top:71px;font-size:30px;line-height:36px;letter-spacing:0.7px;color:#8a8a8a">+ 72</div>
  <div class="abs c" style="left:0;width:156px;top:106px;font-size:15px;line-height:18px">zum Vortag</div>
</div>
<div class="panel" style="left:1469px;top:98px;width:172px;height:125px">
  <div class="abs c" style="left:0;width:170px;top:5px;font-size:13px;line-height:15px">Covid-19-Genesene</div>
  <div class="abs c b" style="left:0;width:170px;top:19px;font-size:27px;line-height:30px;color:#47b01f">~155.700</div>
  <div class="abs c" style="left:0;width:170px;top:49px;font-size:15px;line-height:18px;color:#35881a">von ~155.700</div>
  <div class="abs" style="left:0;top:69px;width:170px;height:1px;background:#333"></div>
  <div class="abs c b" style="left:0;width:170px;top:70px;font-size:30px;line-height:36px;color:#47b01f">+ ~1.100</div>
  <div class="abs c" style="left:0;width:170px;top:104px;font-size:15px;line-height:18px">zum Vortag</div>
</div>
<div class="panel" style="left:1653px;top:98px;width:238px;height:125px;overflow:hidden">
  <div class="abs c" style="left:0;width:228px;top:8px;font-size:15.4px;line-height:21px;color:#fff">Kombination, Analyse &amp;<br>Kommunikation relevanter<br>Daten zum Coronavirus</div>
  <div class="abs c" style="left:0;width:228px;top:82px;font-size:15.2px;line-height:21px;color:#2e86d6">Erkunden Sie den NPGEO</div>
  <div class="abs c" style="left:0;width:228px;top:115px;font-size:15.4px;line-height:21px;color:#2e86d6">Corona Hub</div>
  <div class="sb" style="left:228px;top:0;width:8px;height:71px;background:#4f4f4f"></div>
  <div class="sb" style="left:228px;top:71px;width:8px;height:53px;background:#333"></div>
</div>

<!-- CHART 1 -->
<div class="panel" style="left:1132px;top:236px;width:759px;height:207px">
  <div class="abs c b" style="left:0;width:757px;top:18px;font-size:17px;line-height:22px">COVID-19-Fälle nach Altersgruppe und Geschlecht</div>
<!--CHART1-->
</div>
<div class="abs c" style="left:1148px;top:443px;width:161px;height:35px;background:#222;border-bottom:3px solid #2f8bdd;font-size:16px;line-height:35px">Fälle Altersgruppe</div>
<div class="abs c" style="left:1315px;top:443px;width:302px;height:34px;background:#0a0a0a;border:1px solid #333;border-bottom-width:2px;border-top:none;font-size:16px;line-height:35px">Fälle Altersgruppe/100.000 Einwohner</div>

<!-- CHART 2 -->
<div class="panel" style="left:1132px;top:493px;width:759px;height:354px">
  <div class="abs c b" style="left:0;width:757px;top:17px;font-size:19px;line-height:24px;letter-spacing:0.42px">COVID-19-Fälle/Tag nach <u>Erkrankungsbeginn</u>, ersatzweise Meldedatum*</div>
  <div class="abs c b" style="left:0;width:757px;top:48px;font-size:14.5px;line-height:18px;color:#ccc">(Übermittlungsverzug, siehe Disclaimer)</div>
<!--CHART2-->
  <div class="abs" style="left:7px;top:270px;width:750px;font-size:12.38px;line-height:25.8px;color:#ccc">* Bei Fällen ohne Angaben zum Erkrankungsbeginn (Erkrankungsbeginn unbekannt bzw. Fälle ohne Symptome) wird ersatzweise das<br><span style="letter-spacing:0.125px">Meldedatum verwendet. Die abnehmende Fallzahl über die letzten Tage kann durch den Melde- und Übermittlungsverzug bedingt</span><br>sein.</div>
</div>
<div class="abs" style="left:1145px;top:846px;width:733px;height:35px;background:#222"></div>
<div class="abs c" style="left:1145px;top:851.5px;width:733px;font-size:15.6px;line-height:22px">Fälle/Tag (Erkrankung)</div>
<svg class="abs" style="left:1155px;top:853px" width="16" height="24" viewBox="0 0 16 24"><path d="M12.5 3.5 L4.5 12 L12.5 20.5 Z" fill="none" stroke="#fff" stroke-width="1.3"/></svg>
<svg class="abs" style="left:1851px;top:853px" width="16" height="24" viewBox="0 0 16 24"><path d="M3.5 3.5 L11.5 12 L3.5 20.5 Z" fill="none" stroke="#fff" stroke-width="1.3"/></svg>

<!-- CHARTS -->
<svg class="abs" style="left:0;top:0;pointer-events:none" width="1895" height="891" viewBox="0 0 1895 891" font-family="Liberation Sans, sans-serif">
<line x1="1223.0" y1="310.9" x2="1720.0" y2="310.9" stroke="#424242" stroke-width="1" stroke-dasharray="3,3"/>
<line x1="1223.0" y1="332.4" x2="1720.0" y2="332.4" stroke="#424242" stroke-width="1" stroke-dasharray="3,3"/>
<line x1="1305.8" y1="310.9" x2="1305.8" y2="353.8" stroke="#404040" stroke-width="1" stroke-dasharray="3,3"/>
<line x1="1388.7" y1="310.9" x2="1388.7" y2="353.8" stroke="#404040" stroke-width="1" stroke-dasharray="3,3"/>
<line x1="1471.5" y1="310.9" x2="1471.5" y2="353.8" stroke="#404040" stroke-width="1" stroke-dasharray="3,3"/>
<line x1="1554.3" y1="310.9" x2="1554.3" y2="353.8" stroke="#404040" stroke-width="1" stroke-dasharray="3,3"/>
<line x1="1637.2" y1="310.9" x2="1637.2" y2="353.8" stroke="#404040" stroke-width="1" stroke-dasharray="3,3"/>
<line x1="1720.0" y1="310.9" x2="1720.0" y2="353.8" stroke="#404040" stroke-width="1" stroke-dasharray="3,3"/>
<rect x="1231.0" y="352.2" width="31" height="1.6" fill="#0b5283"/>
<rect x="1267.5" y="351.6" width="31" height="2.2" fill="#0b8bb4"/>
<line x1="1264.4" y1="353.8" x2="1264.4" y2="358.8" stroke="#757575" stroke-width="1"/>
<text x="1264.4" y="382" font-size="14" fill="#fff" text-anchor="middle">0-4</text>
<rect x="1313.8" y="351.2" width="31" height="2.6" fill="#0b5283"/>
<rect x="1350.3" y="350.0" width="31" height="3.8" fill="#0b8bb4"/>
<line x1="1347.2" y1="353.8" x2="1347.2" y2="358.8" stroke="#757575" stroke-width="1"/>
<text x="1347.2" y="382" font-size="14" fill="#fff" text-anchor="middle">5-14</text>
<rect x="1396.7" y="328.4" width="31" height="25.4" fill="#0b5283"/>
<rect x="1433.2" y="330.1" width="31" height="23.7" fill="#0b8bb4"/>
<line x1="1430.1" y1="353.8" x2="1430.1" y2="358.8" stroke="#757575" stroke-width="1"/>
<text x="1430.1" y="382" font-size="14" fill="#fff" text-anchor="middle">15-34</text>
<rect x="1479.5" y="312.1" width="31" height="41.7" fill="#0b5283"/>
<rect x="1516.0" y="315.8" width="31" height="38.0" fill="#0b8bb4"/>
<line x1="1512.9" y1="353.8" x2="1512.9" y2="358.8" stroke="#757575" stroke-width="1"/>
<text x="1512.9" y="382" font-size="14" fill="#fff" text-anchor="middle">35-59</text>
<rect x="1562.3" y="335.8" width="31" height="18.0" fill="#0b5283"/>
<rect x="1598.8" y="333.8" width="31" height="20.0" fill="#0b8bb4"/>
<line x1="1595.8" y1="353.8" x2="1595.8" y2="358.8" stroke="#757575" stroke-width="1"/>
<text x="1595.8" y="382" font-size="14" fill="#fff" text-anchor="middle">60-79</text>
<rect x="1645.2" y="338.8" width="31" height="15.0" fill="#0b5283"/>
<rect x="1681.7" y="344.8" width="31" height="9.0" fill="#0b8bb4"/>
<line x1="1678.6" y1="353.8" x2="1678.6" y2="358.8" stroke="#757575" stroke-width="1"/>
<text x="1678.6" y="382" font-size="14" fill="#fff" text-anchor="middle">80+</text>
<line x1="1223.0" y1="309.9" x2="1223.0" y2="353.8" stroke="#757575" stroke-width="1"/>
<line x1="1217.0" y1="353.8" x2="1720.0" y2="353.8" stroke="#757575" stroke-width="1"/>
<line x1="1217.0" y1="310.9" x2="1223.0" y2="310.9" stroke="#757575" stroke-width="1"/>
<line x1="1217.0" y1="332.4" x2="1223.0" y2="332.4" stroke="#757575" stroke-width="1"/>
<text x="1208" y="315.9" font-size="14" fill="#fff" text-anchor="end">40.000</text>
<text x="1208" y="337.4" font-size="14" fill="#fff" text-anchor="end">20.000</text>
<text x="1208" y="358.8" font-size="14" fill="#fff" text-anchor="end">0</text>
<text x="1471" y="414" font-size="15" font-weight="bold" fill="#fff" text-anchor="middle">Altersgruppe</text>
<circle cx="1779.5" cy="353" r="10" fill="#0b5283"/><text x="1795" y="358.5" font-size="14" fill="#fff">Weiblich</text>
<circle cx="1779.5" cy="388.5" r="10" fill="#0b8bb4"/><text x="1795" y="394" font-size="14" fill="#fff">Männlich</text>
<line x1="1214.6" y1="593.7" x2="1848" y2="593.7" stroke="#404040" stroke-width="1" stroke-dasharray="3,3"/>
<line x1="1214.6" y1="611.6" x2="1848" y2="611.6" stroke="#404040" stroke-width="1" stroke-dasharray="3,3"/>
<line x1="1214.6" y1="629.7" x2="1848" y2="629.7" stroke="#404040" stroke-width="1" stroke-dasharray="3,3"/>
<line x1="1459.5" y1="593.7" x2="1459.5" y2="652.6" stroke="#505050" stroke-width="1" stroke-dasharray="3,3"/>
<line x1="1703.5" y1="593.7" x2="1703.5" y2="652.6" stroke="#505050" stroke-width="1" stroke-dasharray="3,3"/>
<rect x="1215.00" y="644.31" width="7.5" height="1.65" fill="#f5b840"/><rect x="1215.00" y="645.95" width="7.5" height="1.65" fill="#0a53c4"/>
<rect x="1223.16" y="644.43" width="7.5" height="1.65" fill="#f5b840"/><rect x="1223.16" y="646.08" width="7.5" height="1.52" fill="#0a53c4"/>
<rect x="1231.33" y="643.17" width="7.5" height="1.52" fill="#f5b840"/><rect x="1231.33" y="644.69" width="7.5" height="2.91" fill="#0a53c4"/>
<rect x="1239.49" y="643.17" width="7.5" height="1.52" fill="#f5b840"/><rect x="1239.49" y="644.69" width="7.5" height="2.91" fill="#0a53c4"/>
<rect x="1247.65" y="642.15" width="7.5" height="1.27" fill="#f5b840"/><rect x="1247.65" y="643.42" width="7.5" height="4.18" fill="#0a53c4"/>
<rect x="1255.82" y="640.89" width="7.5" height="1.27" fill="#f5b840"/><rect x="1255.82" y="642.15" width="7.5" height="5.45" fill="#0a53c4"/>
<rect x="1263.98" y="638.10" width="7.5" height="1.77" fill="#f5b840"/><rect x="1263.98" y="639.87" width="7.5" height="7.73" fill="#0a53c4"/>
<rect x="1272.14" y="632.02" width="7.5" height="2.79" fill="#f5b840"/><rect x="1272.14" y="634.81" width="7.5" height="12.79" fill="#0a53c4"/>
<rect x="1280.30" y="627.21" width="7.5" height="2.53" fill="#f5b840"/><rect x="1280.30" y="629.74" width="7.5" height="17.86" fill="#0a53c4"/>
<rect x="1288.47" y="623.16" width="7.5" height="2.79" fill="#f5b840"/><rect x="1288.47" y="625.94" width="7.5" height="21.66" fill="#0a53c4"/>
<rect x="1296.63" y="619.36" width="7.5" height="4.05" fill="#f5b840"/><rect x="1296.63" y="623.41" width="7.5" height="24.19" fill="#0a53c4"/>
<rect x="1304.79" y="614.29" width="7.5" height="3.80" fill="#f5b840"/><rect x="1304.79" y="618.09" width="7.5" height="29.51" fill="#0a53c4"/>
<rect x="1312.96" y="613.28" width="7.5" height="3.80" fill="#f5b840"/><rect x="1312.96" y="617.08" width="7.5" height="30.52" fill="#0a53c4"/>
<rect x="1321.12" y="612.14" width="7.5" height="3.80" fill="#f5b840"/><rect x="1321.12" y="615.94" width="7.5" height="31.66" fill="#0a53c4"/>
<rect x="1329.28" y="599.35" width="7.5" height="6.71" fill="#f5b840"/><rect x="1329.28" y="606.06" width="7.5" height="41.54" fill="#0a53c4"/>
<rect x="1337.44" y="603.15" width="7.5" height="8.87" fill="#f5b840"/><rect x="1337.44" y="612.01" width="7.5" height="35.59" fill="#0a53c4"/>
<rect x="1345.61" y="602.01" width="7.5" height="10.13" fill="#f5b840"/><rect x="1345.61" y="612.14" width="7.5" height="35.46" fill="#0a53c4"/>
<rect x="1353.77" y="606.95" width="7.5" height="9.88" fill="#f5b840"/><rect x="1353.77" y="616.82" width="7.5" height="30.78" fill="#0a53c4"/>
<rect x="1361.93" y="600.74" width="7.5" height="10.13" fill="#f5b840"/><rect x="1361.93" y="610.87" width="7.5" height="36.73" fill="#0a53c4"/>
<rect x="1370.10" y="609.48" width="7.5" height="8.61" fill="#f5b840"/><rect x="1370.10" y="618.09" width="7.5" height="29.51" fill="#0a53c4"/>
<rect x="1378.26" y="617.08" width="7.5" height="6.33" fill="#f5b840"/><rect x="1378.26" y="623.41" width="7.5" height="24.19" fill="#0a53c4"/>
<rect x="1386.42" y="603.15" width="7.5" height="8.99" fill="#f5b840"/><rect x="1386.42" y="612.14" width="7.5" height="35.46" fill="#0a53c4"/>
<rect x="1394.59" y="610.87" width="7.5" height="11.27" fill="#f5b840"/><rect x="1394.59" y="622.14" width="7.5" height="25.46" fill="#0a53c4"/>
<rect x="1402.75" y="607.07" width="7.5" height="12.92" fill="#f5b840"/><rect x="1402.75" y="619.99" width="7.5" height="27.61" fill="#0a53c4"/>
<rect x="1410.91" y="608.21" width="7.5" height="13.93" fill="#f5b840"/><rect x="1410.91" y="622.14" width="7.5" height="25.46" fill="#0a53c4"/>
<rect x="1419.08" y="607.07" width="7.5" height="15.07" fill="#f5b840"/><rect x="1419.08" y="622.14" width="7.5" height="25.46" fill="#0a53c4"/>
<rect x="1427.24" y="612.14" width="7.5" height="11.27" fill="#f5b840"/><rect x="1427.24" y="623.41" width="7.5" height="24.19" fill="#0a53c4"/>
<rect x="1435.40" y="619.61" width="7.5" height="8.61" fill="#f5b840"/><rect x="1435.40" y="628.22" width="7.5" height="19.38" fill="#0a53c4"/>
<rect x="1443.56" y="608.21" width="7.5" height="11.78" fill="#f5b840"/><rect x="1443.56" y="619.99" width="7.5" height="27.61" fill="#0a53c4"/>
<rect x="1451.73" y="610.87" width="7.5" height="16.34" fill="#f5b840"/><rect x="1451.73" y="627.21" width="7.5" height="20.39" fill="#0a53c4"/>
<rect x="1459.89" y="606.95" width="7.5" height="16.59" fill="#f5b840"/><rect x="1459.89" y="623.54" width="7.5" height="24.06" fill="#0a53c4"/>
<rect x="1468.05" y="608.21" width="7.5" height="17.73" fill="#f5b840"/><rect x="1468.05" y="625.94" width="7.5" height="21.66" fill="#0a53c4"/>
<rect x="1476.22" y="605.68" width="7.5" height="19.00" fill="#f5b840"/><rect x="1476.22" y="624.68" width="7.5" height="22.92" fill="#0a53c4"/>
<rect x="1484.38" y="617.20" width="7.5" height="12.28" fill="#f5b840"/><rect x="1484.38" y="629.49" width="7.5" height="18.11" fill="#0a53c4"/>
<rect x="1492.54" y="623.41" width="7.5" height="8.61" fill="#f5b840"/><rect x="1492.54" y="632.02" width="7.5" height="15.58" fill="#0a53c4"/>
<rect x="1500.70" y="616.19" width="7.5" height="12.03" fill="#f5b840"/><rect x="1500.70" y="628.22" width="7.5" height="19.38" fill="#0a53c4"/>
<rect x="1508.87" y="616.19" width="7.5" height="14.56" fill="#f5b840"/><rect x="1508.87" y="630.76" width="7.5" height="16.84" fill="#0a53c4"/>
<rect x="1517.03" y="616.19" width="7.5" height="15.83" fill="#f5b840"/><rect x="1517.03" y="632.02" width="7.5" height="15.58" fill="#0a53c4"/>
<rect x="1525.19" y="616.19" width="7.5" height="15.83" fill="#f5b840"/><rect x="1525.19" y="632.02" width="7.5" height="15.58" fill="#0a53c4"/>
<rect x="1533.36" y="623.41" width="7.5" height="11.40" fill="#f5b840"/><rect x="1533.36" y="634.81" width="7.5" height="12.79" fill="#0a53c4"/>
<rect x="1541.52" y="625.94" width="7.5" height="11.14" fill="#f5b840"/><rect x="1541.52" y="637.09" width="7.5" height="10.51" fill="#0a53c4"/>
<rect x="1549.68" y="629.49" width="7.5" height="7.85" fill="#f5b840"/><rect x="1549.68" y="637.34" width="7.5" height="10.26" fill="#0a53c4"/>
<rect x="1557.85" y="631.01" width="7.5" height="6.33" fill="#f5b840"/><rect x="1557.85" y="637.34" width="7.5" height="10.26" fill="#0a53c4"/>
<rect x="1566.01" y="628.22" width="7.5" height="9.12" fill="#f5b840"/><rect x="1566.01" y="637.34" width="7.5" height="10.26" fill="#0a53c4"/>
<rect x="1574.17" y="625.94" width="7.5" height="11.40" fill="#f5b840"/><rect x="1574.17" y="637.34" width="7.5" height="10.26" fill="#0a53c4"/>
<rect x="1582.34" y="627.21" width="7.5" height="11.14" fill="#f5b840"/><rect x="1582.34" y="638.35" width="7.5" height="9.25" fill="#0a53c4"/>
<rect x="1590.50" y="627.21" width="7.5" height="12.41" fill="#f5b840"/><rect x="1590.50" y="639.62" width="7.5" height="7.98" fill="#0a53c4"/>
<rect x="1598.66" y="632.02" width="7.5" height="9.12" fill="#f5b840"/><rect x="1598.66" y="641.14" width="7.5" height="6.46" fill="#0a53c4"/>
<rect x="1606.82" y="636.08" width="7.5" height="6.08" fill="#f5b840"/><rect x="1606.82" y="642.15" width="7.5" height="5.45" fill="#0a53c4"/>
<rect x="1614.99" y="632.02" width="7.5" height="8.23" fill="#f5b840"/><rect x="1614.99" y="640.25" width="7.5" height="7.35" fill="#0a53c4"/>
<rect x="1623.15" y="633.29" width="7.5" height="8.87" fill="#f5b840"/><rect x="1623.15" y="642.15" width="7.5" height="5.45" fill="#0a53c4"/>
<rect x="1631.31" y="632.02" width="7.5" height="10.13" fill="#f5b840"/><rect x="1631.31" y="642.15" width="7.5" height="5.45" fill="#0a53c4"/>
<rect x="1639.48" y="633.29" width="7.5" height="8.87" fill="#f5b840"/><rect x="1639.48" y="642.15" width="7.5" height="5.45" fill="#0a53c4"/>
<rect x="1647.64" y="633.29" width="7.5" height="8.87" fill="#f5b840"/><rect x="1647.64" y="642.15" width="7.5" height="5.45" fill="#0a53c4"/>
<rect x="1655.80" y="637.09" width="7.5" height="6.33" fill="#f5b840"/><rect x="1655.80" y="643.42" width="7.5" height="4.18" fill="#0a53c4"/>
<rect x="1663.97" y="641.52" width="7.5" height="2.91" fill="#f5b840"/><rect x="1663.97" y="644.43" width="7.5" height="3.17" fill="#0a53c4"/>
<rect x="1672.13" y="636.08" width="7.5" height="6.33" fill="#f5b840"/><rect x="1672.13" y="642.41" width="7.5" height="5.19" fill="#0a53c4"/>
<rect x="1680.29" y="637.09" width="7.5" height="6.33" fill="#f5b840"/><rect x="1680.29" y="643.42" width="7.5" height="4.18" fill="#0a53c4"/>
<rect x="1688.45" y="637.09" width="7.5" height="7.60" fill="#f5b840"/><rect x="1688.45" y="644.69" width="7.5" height="2.91" fill="#0a53c4"/>
<rect x="1696.62" y="637.09" width="7.5" height="6.33" fill="#f5b840"/><rect x="1696.62" y="643.42" width="7.5" height="4.18" fill="#0a53c4"/>
<rect x="1704.78" y="639.62" width="7.5" height="5.32" fill="#f5b840"/><rect x="1704.78" y="644.94" width="7.5" height="2.66" fill="#0a53c4"/>
<rect x="1712.94" y="641.14" width="7.5" height="4.18" fill="#f5b840"/><rect x="1712.94" y="645.32" width="7.5" height="2.28" fill="#0a53c4"/>
<rect x="1721.11" y="642.15" width="7.5" height="3.17" fill="#f5b840"/><rect x="1721.11" y="645.32" width="7.5" height="2.28" fill="#0a53c4"/>
<rect x="1729.27" y="641.14" width="7.5" height="4.18" fill="#f5b840"/><rect x="1729.27" y="645.32" width="7.5" height="2.28" fill="#0a53c4"/>
<rect x="1737.43" y="638.10" width="7.5" height="6.84" fill="#f5b840"/><rect x="1737.43" y="644.94" width="7.5" height="2.66" fill="#0a53c4"/>
<rect x="1745.60" y="638.10" width="7.5" height="6.84" fill="#f5b840"/><rect x="1745.60" y="644.94" width="7.5" height="2.66" fill="#0a53c4"/>
<rect x="1753.76" y="639.62" width="7.5" height="6.59" fill="#f5b840"/><rect x="1753.76" y="646.21" width="7.5" height="1.39" fill="#0a53c4"/>
<rect x="1761.92" y="639.62" width="7.5" height="6.59" fill="#f5b840"/><rect x="1761.92" y="646.21" width="7.5" height="1.39" fill="#0a53c4"/>
<rect x="1770.08" y="642.15" width="7.5" height="4.05" fill="#f5b840"/><rect x="1770.08" y="646.21" width="7.5" height="1.39" fill="#0a53c4"/>
<rect x="1778.25" y="644.94" width="7.5" height="1.65" fill="#f5b840"/><rect x="1778.25" y="646.59" width="7.5" height="1.01" fill="#0a53c4"/>
<rect x="1786.41" y="642.15" width="7.5" height="4.05" fill="#f5b840"/><rect x="1786.41" y="646.21" width="7.5" height="1.39" fill="#0a53c4"/>
<rect x="1794.57" y="642.15" width="7.5" height="4.69" fill="#f5b840"/><rect x="1794.57" y="646.84" width="7.5" height="0.76" fill="#0a53c4"/>
<rect x="1802.74" y="642.15" width="7.5" height="4.69" fill="#f5b840"/><rect x="1802.74" y="646.84" width="7.5" height="0.76" fill="#0a53c4"/>
<rect x="1810.90" y="642.15" width="7.5" height="4.69" fill="#f5b840"/><rect x="1810.90" y="646.84" width="7.5" height="0.76" fill="#0a53c4"/>
<rect x="1819.06" y="643.17" width="7.5" height="4.05" fill="#f5b840"/><rect x="1819.06" y="647.22" width="7.5" height="0.38" fill="#0a53c4"/>
<rect x="1827.22" y="644.69" width="7.5" height="2.66" fill="#f5b840"/><rect x="1827.22" y="647.35" width="7.5" height="0.25" fill="#0a53c4"/>
<rect x="1835.39" y="645.95" width="7.5" height="1.52" fill="#f5b840"/><rect x="1835.39" y="647.47" width="7.5" height="0.13" fill="#0a53c4"/>
<rect x="1843.55" y="645.70" width="7.5" height="1.77" fill="#f5b840"/><rect x="1843.55" y="647.47" width="7.5" height="0.13" fill="#0a53c4"/>
<line x1="1214.6" y1="592.7" x2="1214.6" y2="647.6" stroke="#757575" stroke-width="1"/>
<line x1="1207.6" y1="647.6" x2="1851" y2="647.6" stroke="#7d8ea8" stroke-width="1"/>
<line x1="1207.6" y1="593.7" x2="1214.6" y2="593.7" stroke="#757575" stroke-width="1"/>
<line x1="1207.6" y1="611.6" x2="1214.6" y2="611.6" stroke="#757575" stroke-width="1"/>
<line x1="1207.6" y1="629.7" x2="1214.6" y2="629.7" stroke="#757575" stroke-width="1"/>
<text x="1199" y="598.7" font-size="14" fill="#fff" text-anchor="end">6.000</text>
<text x="1199" y="616.6" font-size="14" fill="#fff" text-anchor="end">4.000</text>
<text x="1199" y="634.7" font-size="14" fill="#fff" text-anchor="end">2.000</text>
<text x="1199" y="652.6" font-size="14" fill="#fff" text-anchor="end">0</text>
<text x="1331.5" y="671" font-size="14" fill="#fff" text-anchor="middle">Mär</text>
<text x="1585.5" y="671" font-size="14" fill="#fff" text-anchor="middle">Apr</text>
<text x="1829.5" y="671" font-size="14" fill="#fff" text-anchor="middle">Mai</text>
<circle cx="1393" cy="719.3" r="10" fill="#0a53c4"/><text x="1408.5" y="724.5" font-size="14" fill="#fff">Erkrankungsdatum</text>
<circle cx="1553.5" cy="719.3" r="10" fill="#f5b840"/><text x="1569.5" y="724.5" font-size="14" fill="#fff">Meldedatum</text>
</svg>
</body>
</html>
